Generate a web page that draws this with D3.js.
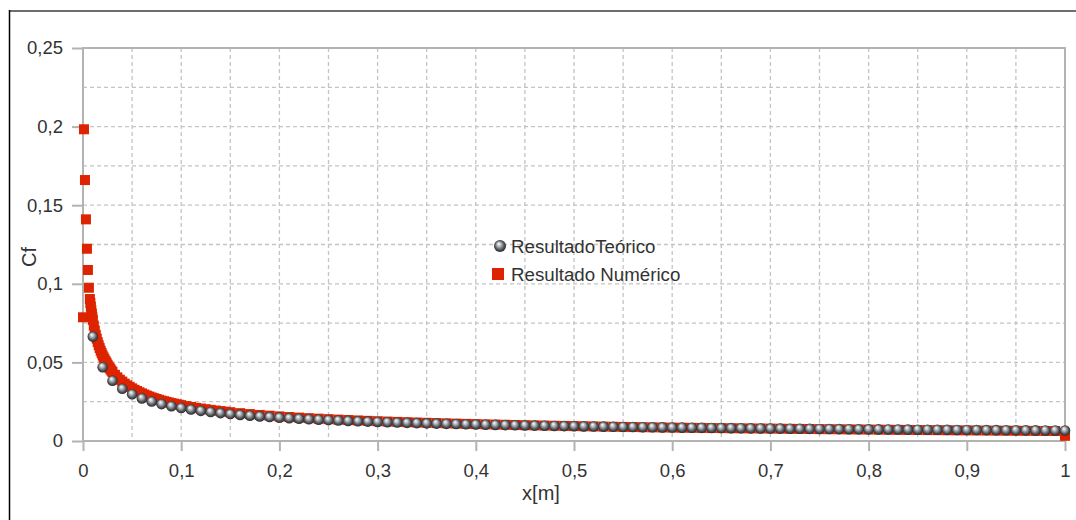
<!DOCTYPE html>
<html><head><meta charset="utf-8">
<script src="https://cdn.jsdelivr.net/npm/d3@7"></script>
<style>
html,body{margin:0;padding:0;background:#fff;}
svg{display:block;font-family:"Liberation Sans",Arial,sans-serif;}
</style></head>
<body><svg id="c" width="1076" height="520"></svg>
<script>
// ---- data ----
const xTickValues = [0,0.1,0.2,0.3,0.4,0.5,0.6,0.7,0.8,0.9,1];
const xTickLabels = ["0","0,1","0,2","0,3","0,4","0,5","0,6","0,7","0,8","0,9","1"];
const yTickValues = [0,0.05,0.1,0.15,0.2,0.25];
const yTickLabels = ["0","0,05","0,1","0,15","0,2","0,25"];
const seriesNames = ["ResultadoTeórico","Resultado Numérico"];

const theoX = [0.01,0.02,0.03,0.04,0.05,0.06,0.07,0.08,0.09,0.10,
0.11,0.12,0.13,0.14,0.15,0.16,0.17,0.18,0.19,0.20,
0.21,0.22,0.23,0.24,0.25,0.26,0.27,0.28,0.29,0.30,
0.31,0.32,0.33,0.34,0.35,0.36,0.37,0.38,0.39,0.40,
0.41,0.42,0.43,0.44,0.45,0.46,0.47,0.48,0.49,0.50,
0.51,0.52,0.53,0.54,0.55,0.56,0.57,0.58,0.59,0.60,
0.61,0.62,0.63,0.64,0.65,0.66,0.67,0.68,0.69,0.70,
0.71,0.72,0.73,0.74,0.75,0.76,0.77,0.78,0.79,0.80,
0.81,0.82,0.83,0.84,0.85,0.86,0.87,0.88,0.89,0.90,
0.91,0.92,0.93,0.94,0.95,0.96,0.97,0.98,0.99,1.00];
const theoCf = [0.06640,0.04695,0.03834,0.03320,0.02970,0.02711,0.02510,0.02348,0.02213,0.02100,
0.02002,0.01917,0.01842,0.01775,0.01714,0.01660,0.01610,0.01565,0.01523,0.01485,
0.01449,0.01416,0.01385,0.01355,0.01328,0.01302,0.01278,0.01255,0.01233,0.01212,
0.01193,0.01174,0.01156,0.01139,0.01122,0.01107,0.01092,0.01077,0.01063,0.01050,
0.01037,0.01025,0.01013,0.01001,0.00990,0.00979,0.00969,0.00958,0.00949,0.00939,
0.00930,0.00921,0.00912,0.00904,0.00895,0.00887,0.00879,0.00872,0.00864,0.00857,
0.00850,0.00843,0.00837,0.00830,0.00824,0.00817,0.00811,0.00805,0.00799,0.00794,
0.00788,0.00783,0.00777,0.00772,0.00767,0.00762,0.00757,0.00752,0.00747,0.00742,
0.00738,0.00733,0.00729,0.00724,0.00720,0.00716,0.00712,0.00708,0.00704,0.00700,
0.00696,0.00692,0.00689,0.00685,0.00681,0.00678,0.00674,0.00671,0.00667,0.00664];

const numX = [0,0.001,0.002,0.003,0.004,0.005,0.006,0.007,0.0075,0.008,0.0085,0.009,0.0095,0.010,
0.011,0.012,0.013,0.014,0.015,0.016,0.017,0.018,0.019,0.020,
0.021,0.022,0.023,0.024,0.025,0.026,0.027,0.028,0.029,0.030,
0.0325,0.035,0.0375,0.040,0.0425,0.045,0.0475,0.050,0.0525,0.055,0.0575,0.060,
0.0625,0.065,0.0675,0.070,0.0725,0.075,0.0775,0.080,0.0825,0.085,0.0875,0.090,
0.0925,0.095,0.0975,0.100,
0.105,0.11,0.115,0.12,0.125,0.13,0.135,0.14,0.145,0.15,
0.16,0.17,0.18,0.19,0.20,
0.21,0.22,0.23,0.24,0.25,0.26,0.27,0.28,0.29,0.30,
0.31,0.32,0.33,0.34,0.35,0.36,0.37,0.38,0.39,0.40,
0.41,0.42,0.43,0.44,0.45,0.46,0.47,0.48,0.49,0.50,
0.51,0.52,0.53,0.54,0.55,0.56,0.57,0.58,0.59,0.60,
0.61,0.62,0.63,0.64,0.65,0.66,0.67,0.68,0.69,0.70,
0.71,0.72,0.73,0.74,0.75,0.76,0.77,0.78,0.79,0.80,
0.81,0.82,0.83,0.84,0.85,0.86,0.87,0.88,0.89,0.90,
0.91,0.92,0.93,0.94,0.95,0.96,0.97,0.98,0.99,1.00];
const numCf = [0.0787,0.1983,0.1660,0.1410,0.1223,0.1088,0.0975,0.0903,0.0878,0.0855,0.0832,0.0810,0.0790,0.0770,
0.0734,0.0703,0.0675,0.0651,0.0629,0.0609,0.0591,0.0574,0.0559,0.0544,
0.0531,0.0519,0.0508,0.0497,0.0485,0.0474,0.0465,0.0456,0.0447,0.0439,
0.0421,0.0405,0.0390,0.0378,0.0365,0.0354,0.0345,0.0335,0.0326,0.0318,0.0310,0.0303,
0.0296,0.0289,0.0283,0.0277,0.0272,0.0267,0.0262,0.0257,0.0253,0.0249,0.0245,0.0241,
0.0238,0.0234,0.0231,0.0228,
0.0222,0.02165,0.02114,0.02067,0.02022,0.01980,0.01941,0.01903,0.01867,0.01833,
0.01770,0.01712,0.01659,0.01611,0.01565,
0.01525,0.01488,0.01453,0.01421,0.01390,0.01361,0.01334,0.01308,0.01283,0.01260,
0.01237,0.01216,0.01196,0.01176,0.01158,0.01140,0.01123,0.01106,0.01090,0.01075,
0.01060,0.01046,0.01032,0.01019,0.01006,0.00994,0.00982,0.00970,0.00959,0.00948,
0.00937,0.00926,0.00916,0.00906,0.00897,0.00887,0.00878,0.00869,0.00861,0.00852,
0.00845,0.00838,0.00832,0.00825,0.00819,0.00812,0.00806,0.00800,0.00795,0.00789,
0.00782,0.00775,0.00769,0.00763,0.00756,0.00750,0.00744,0.00738,0.00732,0.00727,
0.00721,0.00716,0.00710,0.00705,0.00700,0.00694,0.00689,0.00684,0.00679,0.00675,
0.00670,0.00665,0.00661,0.00656,0.00651,0.00647,0.00643,0.00638,0.00634,0.00330];

const xGrid = [0.05,0.1,0.15,0.2,0.25,0.3,0.35,0.4,0.45,0.5,0.55,0.6,0.65,0.7,0.75,0.8,0.85,0.9,0.95];
const yGrid = [0.025,0.05,0.075,0.1,0.125,0.15,0.175,0.2,0.225];

// ---- drawing ----
const svg = d3.select("#c");
const L = 83, R = 1065, T = 48, B = 441;
const x = d3.scaleLinear().domain([0,1]).range([L,R]);
const y = d3.scaleLinear().domain([0,0.25]).range([B,T]);

const defs = svg.append("defs");
const g = defs.append("radialGradient").attr("id","ball")
  .attr("cx","50%").attr("cy","50%").attr("r","55%").attr("fx","38%").attr("fy","30%");
g.append("stop").attr("offset","0%").attr("stop-color","#ffffff");
g.append("stop").attr("offset","28%").attr("stop-color","#c0c4c8");
g.append("stop").attr("offset","70%").attr("stop-color","#50545a");
g.append("stop").attr("offset","100%").attr("stop-color","#1e1e1e");

// outer frame
svg.append("line").attr("x1",9).attr("x2",1076).attr("y1",11).attr("y2",11)
  .attr("stroke","#6e6e6e").attr("stroke-width",2);
svg.append("line").attr("x1",9.5).attr("x2",9.5).attr("y1",10).attr("y2",520)
  .attr("stroke","#000").attr("stroke-width",1.5);

// grid
const grid = svg.append("g").attr("stroke","#c4c4c4").attr("stroke-width",1.3).attr("stroke-dasharray","4,3");
grid.selectAll(".gx").data(xGrid).join("line")
  .attr("x1",d=>x(d)).attr("x2",d=>x(d)).attr("y1",T).attr("y2",B);
grid.selectAll(".gy").data(yGrid).join("line")
  .attr("y1",d=>y(d)).attr("y2",d=>y(d)).attr("x1",L).attr("x2",R);

// plot border
svg.append("rect").attr("x",L).attr("y",T).attr("width",R-L).attr("height",B-T)
  .attr("fill","none").attr("stroke","#b3b3b3").attr("stroke-width",2);

// axes
const xAxis = d3.axisBottom(x).tickValues(xTickValues)
  .tickFormat((d,i)=>xTickLabels[i]).tickSize(10).tickPadding(13);
const ax = svg.append("g").attr("transform",`translate(0,${B})`).call(xAxis);
const yAxis = d3.axisLeft(y).tickValues(yTickValues)
  .tickFormat((d,i)=>yTickLabels[i]).tickSize(11).tickPadding(9);
const ay = svg.append("g").attr("transform",`translate(${L},0)`).call(yAxis);
[ax,ay].forEach(a=>{
  a.select(".domain").remove();
  a.selectAll(".tick line").attr("stroke","#b3b3b3").attr("stroke-width",2);
  a.selectAll(".tick text").attr("fill","#333").style("font-size","18.5px")
   .style("font-family","'Liberation Sans',Arial,sans-serif");
});

// axis titles
svg.append("text").attr("x",541).attr("y",500).attr("text-anchor","middle")
  .attr("fill","#333").style("font-size","20px").text("x[m]");
svg.append("text").attr("transform","translate(36,257) rotate(-90)").attr("text-anchor","middle")
  .attr("fill","#333").style("font-size","20px").text("Cf");

// numeric series (squares)
const numData = numX.map((v,i)=>({x:v,y:numCf[i]}));
svg.append("g").selectAll("rect").data(numData).join("rect")
  .attr("x",d=>x(d.x)-5).attr("y",d=>y(d.y)-5).attr("width",10).attr("height",10)
  .attr("fill","#dd2300");

// theoretical series (spheres)
const theoData = theoX.map((v,i)=>({x:v,y:theoCf[i]}));
svg.append("g").selectAll("circle").data(theoData).join("circle")
  .attr("cx",d=>x(d.x)).attr("cy",d=>y(d.y)).attr("r",5.3)
  .attr("fill","url(#ball)");

// legend
const lg = svg.append("g");
lg.append("circle").attr("cx",500).attr("cy",246).attr("r",6).attr("fill","url(#ball)");
lg.append("rect").attr("x",492).attr("y",268).attr("width",12).attr("height",12).attr("fill","#dd2300");
lg.append("text").attr("x",511).attr("y",253).attr("fill","#333").style("font-size","18.7px").text(seriesNames[0]);
lg.append("text").attr("x",511).attr("y",281).attr("fill","#333").style("font-size","18.7px").text(seriesNames[1]);
</script></body></html>
